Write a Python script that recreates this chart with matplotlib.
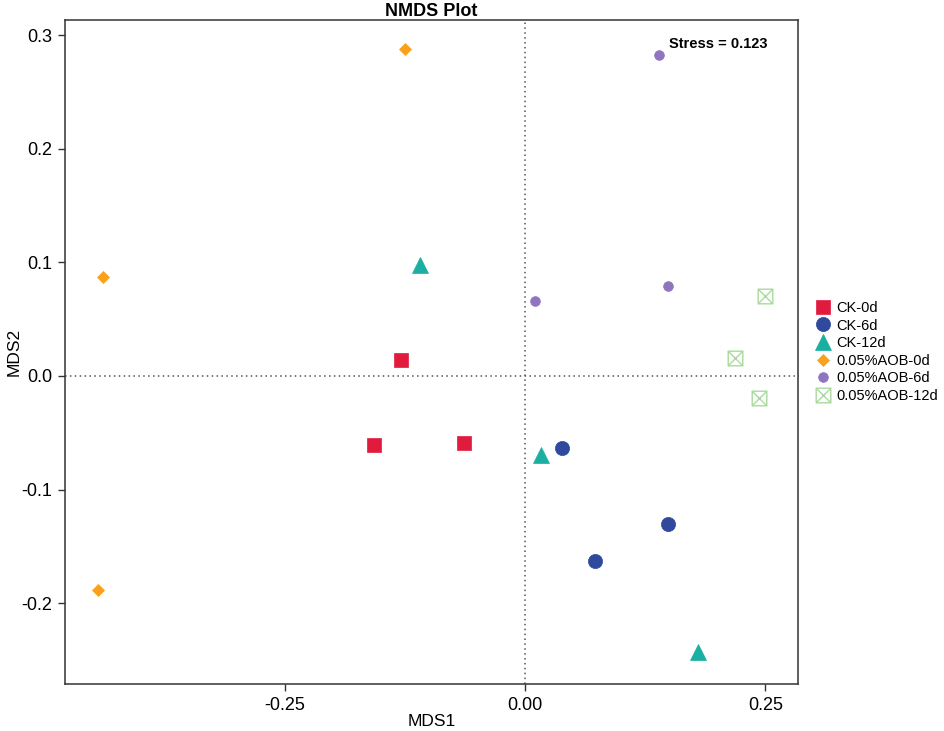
import matplotlib
matplotlib.use("Agg")
import matplotlib.pyplot as plt
from matplotlib.path import Path
from matplotlib.ticker import FormatStrFormatter

plt.rcParams['font.family'] = ['Liberation Sans', 'DejaVu Sans']

# Data
groups = ['CK-0d', 'CK-6d', 'CK-12d', '0.05%AOB-0d', '0.05%AOB-6d', '0.05%AOB-12d']
mds1 = {
    'CK-0d': [-0.129, -0.157, -0.063],
    'CK-6d': [0.039, 0.149, 0.073],
    'CK-12d': [-0.109, 0.017, 0.180],
    '0.05%AOB-0d': [-0.125, -0.439, -0.444],
    '0.05%AOB-6d': [0.139, 0.010, 0.149],
    '0.05%AOB-12d': [0.250, 0.218, 0.243],
}
mds2 = {
    'CK-0d': [0.014, -0.061, -0.059],
    'CK-6d': [-0.063, -0.130, -0.163],
    'CK-12d': [0.098, -0.070, -0.243],
    '0.05%AOB-0d': [0.288, 0.087, -0.188],
    '0.05%AOB-6d': [0.282, 0.066, 0.079],
    '0.05%AOB-12d': [0.070, 0.016, -0.019],
}
stress = 0.123

# square with an X inside
box_x = Path([(-1, -1), (1, -1), (1, 1), (-1, 1), (-1, -1), (1, 1), (-1, 1), (1, -1)],
             [Path.MOVETO, Path.LINETO, Path.LINETO, Path.LINETO, Path.LINETO,
              Path.LINETO, Path.MOVETO, Path.LINETO])

styles = {
    'CK-0d': dict(marker='s', ms=9.4, color='#E11B3E'),
    'CK-6d': dict(marker='o', ms=10.2, color='#2F4A9C'),
    'CK-12d': dict(marker='^', ms=12, color='#1BAFA2'),
    '0.05%AOB-0d': dict(marker='D', ms=5.8, color='#F9A11B'),
    '0.05%AOB-6d': dict(marker='o', ms=7, color='#8F74BF'),
    '0.05%AOB-12d': dict(marker=box_x, ms=10.5, color='#A9DA9E', mfc='none', mew=1.0),
}

fig = plt.figure(figsize=(9.45, 7.31), dpi=100)
ax = fig.add_axes([65 / 945, 1 - 684 / 731, (798 - 65) / 945, (684 - 20) / 731])

ax.axhline(0, color='#555555', linestyle=(0, (1, 2.2)), linewidth=1.1, zorder=1)
ax.axvline(0, color='#555555', linestyle=(0, (1, 2.2)), linewidth=1.1, zorder=1)

for g in groups:
    st = dict(styles[g])
    ax.plot(mds1[g], mds2[g], linestyle='none', label=g, zorder=3,
            marker=st['marker'], markersize=st['ms'], color=st['color'],
            markerfacecolor=st.get('mfc', st['color']),
            markeredgecolor=st['color'], markeredgewidth=st.get('mew', 0.5))

ax.text(0.150, 0.292, 'Stress = %.3f' % stress, fontsize=10.5, fontweight='bold',
        ha='left', va='center')

ax.set_xlim(-0.4784, 0.284)
ax.set_ylim(-0.2711, 0.3132)
ax.set_xticks([-0.25, 0, 0.25])
ax.set_yticks([-0.2, -0.1, 0, 0.1, 0.2, 0.3])
ax.xaxis.set_major_formatter(FormatStrFormatter('%.2f'))
ax.yaxis.set_major_formatter(FormatStrFormatter('%.1f'))
ax.tick_params(labelsize=13, length=5, width=1, color='#333333', pad=4)
for sp in ax.spines.values():
    sp.set_color('#333333')
    sp.set_linewidth(1.1)

ax.set_xlabel('MDS1', fontsize=12.5, labelpad=0)
ax.set_ylabel('MDS2', fontsize=12.5, labelpad=0)
ax.set_title('NMDS Plot', fontsize=13, fontweight='bold', pad=2)

ax.legend(loc='center left', bbox_to_anchor=(1.01, 0.5), frameon=False,
          fontsize=10.5, handlelength=1.0, handletextpad=0.4, labelspacing=0.25,
          borderaxespad=0.3)

fig.savefig('out.png', dpi=100)
